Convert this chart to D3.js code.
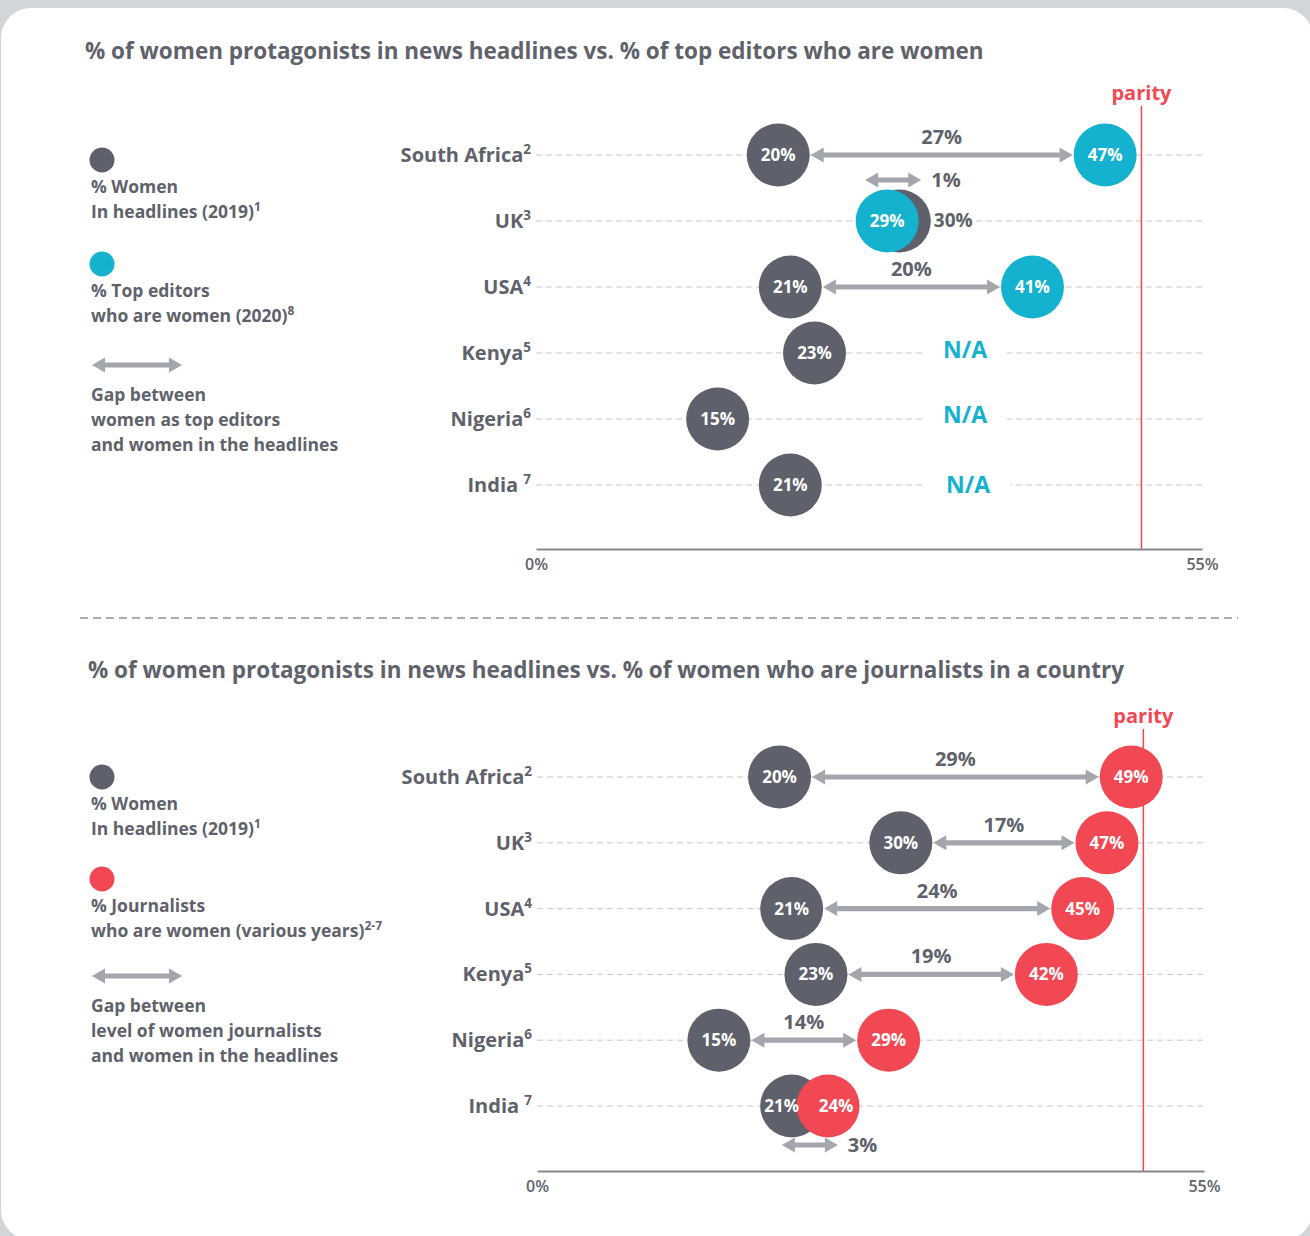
<!DOCTYPE html>
<html>
<head>
<meta charset="utf-8">
<script src="https://cdn.jsdelivr.net/npm/d3@7"></script>
<style>
  html, body { margin: 0; padding: 0; background: #d3d6d9; }
  svg { display: block; }
  text { font-family: "Open Sans", "Noto Sans", sans-serif; }
</style>
</head>
<body>
<svg width="1310" height="1236"></svg>
<script>
// data
const countries = ["South Africa", "UK", "USA", "Kenya", "Nigeria", "India"];
const footnotes = ["2", "3", "4", "5", "6", "7"];
const headlines = [20, 30, 21, 23, 15, 21];       // % women in headlines (2019)
const editors = [47, 29, 41, null, null, null];   // % top editors who are women (2020)
const journalists = [49, 47, 45, 42, 29, 24];     // % journalists who are women
const axisTicks = [0, 55];
const parity = 50;

const grey = "#5e616b";
const cyan = "#15b2d0";
const red = "#f24853";
const arrowCol = "#a3a6ad";
const textCol = "#5f626b";

const svg = d3.select("svg");

// card background
svg.append("rect")
  .attr("x", 1).attr("y", 8)
  .attr("width", 1312).attr("height", 1232)
  .attr("rx", 30)
  .attr("fill", "#fff");

function arrowPath(xa, xb, y) {
  const h = 13, hw = 7.5, t = 2.6;
  return `M${xa},${y} L${xa + h},${y - hw} L${xa + h},${y - t} L${xb - h},${y - t} L${xb - h},${y - hw} L${xb},${y} ` +
    `L${xb - h},${y + hw} L${xb - h},${y + t} L${xa + h},${y + t} L${xa + h},${y + hw} Z`;
}

function drawPanel(opts) {
  const g = svg.append("g");
  const x = d3.scaleLinear().domain([0, 55]).range(opts.xRange);
  const y = d3.scalePoint().domain(countries).range(opts.yRange);
  const r = 31.5;

  // title
  g.append("text")
    .attr("x", opts.titleX).attr("y", opts.titleY)
    .attr("font-size", 22.5).attr("font-weight", 700)
    .attr("fill", textCol)
    .text(opts.title);

  // legend
  const L = opts.legend;
  g.append("circle").attr("cx", 102).attr("cy", L.y0).attr("r", 12.5).attr("fill", grey);
  const lt = (yy, parts) => {
    const t = g.append("text").attr("x", 91).attr("y", yy)
      .attr("font-size", 17.5).attr("font-weight", 700).attr("fill", textCol);
    parts.forEach(p => {
      if (typeof p === "string") t.append("tspan").text(p);
      else t.append("tspan").attr("font-size", 12).attr("dy", -7).text(p.sup);
    });
  };
  lt(L.y0 + 33, ["% Women"]);
  lt(L.y0 + 58, ["In headlines (2019)", { sup: "1" }]);
  g.append("circle").attr("cx", 102).attr("cy", L.y1).attr("r", 12.5).attr("fill", opts.color);
  lt(L.y1 + 33, [L.label1]);
  lt(L.y1 + 58, L.label2);
  g.append("path").attr("d", arrowPath(92, 182, L.y2)).attr("fill", arrowCol);
  lt(L.y2 + 36, ["Gap between"]);
  lt(L.y2 + 61, [L.gap2]);
  lt(L.y2 + 86, ["and women in the headlines"]);

  // axis
  const axis = d3.axisBottom(x).tickValues(axisTicks).tickSize(0).tickSizeOuter(0)
    .tickPadding(10).tickFormat(d => d + "%");
  const ax = g.append("g").attr("transform", `translate(0,${opts.axisY})`).call(axis);
  ax.select(".domain").attr("stroke", "#85888e").attr("stroke-width", 2);
  ax.selectAll("text").attr("font-size", 16).attr("fill", textCol)
    .attr("font-family", "\"Open Sans\", sans-serif").attr("font-weight", 600);

  // gridlines and country labels
  countries.forEach((c, i) => {
    g.append("line")
      .attr("x1", x(0)).attr("x2", x(55))
      .attr("y1", y(c)).attr("y2", y(c))
      .attr("stroke", "#c6c8cc").attr("stroke-width", 1).attr("stroke-dasharray", "6,4");
    const t = g.append("text")
      .attr("x", x(0) - 5).attr("y", y(c) + 7)
      .attr("text-anchor", "end")
      .attr("font-size", 20).attr("font-weight", 700).attr("fill", textCol);
    t.append("tspan").text(c === "India" ? c + " " : c);
    t.append("tspan").attr("font-size", 13.5).attr("dy", -8).text(footnotes[i]);
  });

  // parity line
  g.append("line")
    .attr("x1", x(parity)).attr("x2", x(parity))
    .attr("y1", opts.parityTop).attr("y2", opts.axisY)
    .attr("stroke", red).attr("stroke-width", 1.5);
  g.append("text")
    .attr("x", x(parity)).attr("y", opts.parityTop - 6)
    .attr("text-anchor", "middle")
    .attr("font-size", 20).attr("font-weight", 700).attr("fill", red)
    .text("parity");

  // marks
  countries.forEach((c, i) => {
    const cy = y(c);
    const a = headlines[i];
    const b = opts.values[i];
    const xa = x(a);

    if (b == null) {
      g.append("circle").attr("cx", xa).attr("cy", cy).attr("r", r).attr("fill", grey);
      g.append("text").attr("x", xa).attr("y", cy + 6).attr("text-anchor", "middle")
        .attr("font-size", 17).attr("font-weight", 700).attr("fill", "#fff").text(a + "%");
      const nx = opts.naX[i];
      g.append("rect").attr("x", nx - 42).attr("y", cy - 14).attr("width", 84).attr("height", 24)
        .attr("fill", "#fff");
      g.append("text").attr("x", nx).attr("y", cy + 5 + opts.naDy[i]).attr("text-anchor", "middle")
        .attr("font-size", 23).attr("font-weight", 700).attr("fill", cyan).text("N/A");
      return;
    }

    const xb = x(b);
    const gap = Math.abs(b - a);
    const dist = Math.abs(xb - xa);
    const lo = Math.min(xa, xb), hi = Math.max(xa, xb);

    if (dist > 2 * r + 20) {
      g.append("path").attr("d", arrowPath(lo + r + 1, hi - r - 1, cy)).attr("fill", arrowCol);
      g.append("text").attr("x", (lo + hi) / 2).attr("y", cy - 11).attr("text-anchor", "middle")
        .attr("font-size", 20).attr("font-weight", 700).attr("fill", textCol).text(gap + "%");
    } else {
      const mid = (lo + hi) / 2;
      const ay = opts.values[i] < a ? cy - 41 : cy + 39;
      g.append("path").attr("d", arrowPath(mid - 28, mid + 28, ay)).attr("fill", arrowCol);
      g.append("text").attr("x", mid + 38).attr("y", ay + 7)
        .attr("font-size", 20).attr("font-weight", 700).attr("fill", textCol).text(gap + "%");
    }

    g.append("circle").attr("cx", xa).attr("cy", cy).attr("r", r).attr("fill", grey);
    g.append("circle").attr("cx", xb).attr("cy", cy).attr("r", r).attr("fill", opts.color);

    let ga = xa, gb = xb, outside = false;
    if (dist < 20) outside = true;
    else if (dist < 2 * r) { ga = xa - 10; gb = xb + 8; }

    if (outside) {
      g.append("text").attr("x", Math.max(xa, xb) + r + 3).attr("y", cy + 6)
        .attr("font-size", 19).attr("font-weight", 700).attr("fill", textCol).text(a + "%");
    } else {
      g.append("text").attr("x", ga).attr("y", cy + 6).attr("text-anchor", "middle")
        .attr("font-size", 17).attr("font-weight", 700).attr("fill", "#fff").text(a + "%");
    }
    g.append("text").attr("x", gb).attr("y", cy + 6).attr("text-anchor", "middle")
      .attr("font-size", 17).attr("font-weight", 700).attr("fill", "#fff").text(b + "%");
  });
}

drawPanel({
  title: "% of women protagonists in news headlines vs. % of top editors who are women",
  titleX: 85, titleY: 59,
  xRange: [536, 1202], yRange: [155, 485], axisY: 549, parityTop: 106,
  values: editors, color: cyan,
  naX: [0, 0, 0, 965, 965, 968], naDy: [0, 0, 0, 0, -1, 3],
  legend: { y0: 160, y1: 264, y2: 365, label1: "% Top editors",
    label2: ["who are women (2020)", { sup: "8" }], gap2: "women as top editors" }
});

// separator
svg.append("line")
  .attr("x1", 80).attr("x2", 1238).attr("y1", 618).attr("y2", 618)
  .attr("stroke", "#8e9197").attr("stroke-width", 1.5).attr("stroke-dasharray", "8,5");

drawPanel({
  title: "% of women protagonists in news headlines vs. % of women who are journalists in a country",
  titleX: 88, titleY: 678,
  xRange: [537, 1204], yRange: [777, 1106], axisY: 1171, parityTop: 729,
  values: journalists, color: red,
  naX: [], naDy: [],
  legend: { y0: 777, y1: 879, y2: 976, label1: "% Journalists",
    label2: ["who are women (various years)", { sup: "2-7" }], gap2: "level of women journalists" }
});
</script>
</body>
</html>
